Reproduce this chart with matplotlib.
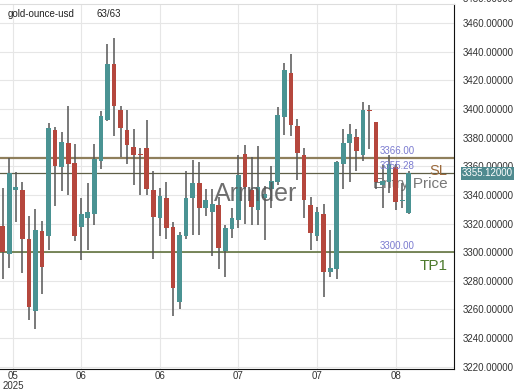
import matplotlib
matplotlib.use('Agg')
import matplotlib.pyplot as plt
from matplotlib.ticker import FormatStrFormatter
import numpy as np

plt.rcParams['font.family'] = ['Liberation Sans', 'DejaVu Sans']

# daily candles (63 bars)
opens = [3318.6, 3299.1, 3343.7, 3343.7, 3309.4, 3259.3, 3314.5, 3311.0, 3385.3, 3359.3,
         3376.1, 3362.1, 3317.9, 3324.1, 3326.4, 3363.9, 3392.7, 3431.8, 3399.6, 3385.3,
         3373.8, 3368.7, 3372.7, 3343.2, 3324.1, 3337.9, 3317.9, 3265.0, 3311.0, 3337.9,
         3348.5, 3330.6, 3328.3, 3333.3, 3301.1, 3316.3, 3322.5, 3368.5, 3343.2, 3329.4,
         3338.0, 3344.4, 3349.0, 3394.5, 3425.3, 3388.1, 3367.8, 3333.3, 3311.0, 3326.4,
         3286.4, 3288.0, 3361.6, 3376.6, 3380.7, 3367.8, 3398.6, 3390.8, 3347.1, 3349.0,
         3359.3, 3336.0, 3327.1]
highs = [3344.8, 3366.0, 3355.9, 3349.0, 3325.3, 3330.1, 3321.8, 3390.4, 3387.6, 3383.9,
         3402.3, 3375.4, 3338.0, 3348.5, 3375.4, 3398.4, 3445.6, 3449.7, 3402.3, 3399.1,
         3386.2, 3373.1, 3392.7, 3357.0, 3344.8, 3349.0, 3321.4, 3314.0, 3357.0, 3364.6,
         3363.2, 3344.4, 3344.4, 3338.6, 3319.1, 3330.6, 3367.8, 3374.7, 3366.2, 3374.3,
         3346.5, 3360.5, 3401.4, 3432.2, 3438.2, 3393.1, 3373.1, 3338.6, 3331.7, 3334.0,
         3315.6, 3363.9, 3386.2, 3389.9, 3386.2, 3405.3, 3403.0, 3391.0, 3360.9, 3367.8,
         3361.6, 3348.5, 3357.0]
lows = [3281.1, 3289.2, 3321.4, 3285.7, 3252.4, 3246.6, 3270.8, 3301.8, 3332.4, 3342.8,
        3339.8, 3307.6, 3294.9, 3301.8, 3319.1, 3358.2, 3391.5, 3381.2, 3366.2, 3361.6,
        3347.1, 3339.8, 3339.8, 3295.6, 3311.0, 3309.4, 3255.8, 3260.4, 3309.4, 3312.2,
        3311.7, 3325.5, 3297.2, 3288.0, 3282.7, 3310.3, 3316.8, 3319.5, 3319.1, 3319.1,
        3308.7, 3330.6, 3346.7, 3381.6, 3381.2, 3350.8, 3324.1, 3301.8, 3307.6, 3268.5,
        3282.7, 3281.1, 3344.4, 3349.0, 3357.0, 3363.9, 3372.4, 3344.4, 3330.6, 3341.6,
        3329.4, 3330.6, 3326.4]
closes = [3300.2, 3355.4, 3345.5, 3309.4, 3261.6, 3315.6, 3289.6, 3386.9, 3360.0, 3377.3,
          3361.6, 3311.0, 3326.4, 3328.3, 3365.1, 3395.4, 3431.8, 3402.3, 3386.9, 3374.7,
          3367.8, 3368.0, 3343.9, 3324.8, 3339.3, 3316.8, 3274.9, 3312.2, 3337.9, 3348.5,
          3331.0, 3336.3, 3334.0, 3303.0, 3317.2, 3323.7, 3354.0, 3345.5, 3331.7, 3345.5,
          3341.0, 3350.1, 3396.1, 3427.2, 3389.2, 3369.2, 3336.3, 3313.3, 3327.8, 3286.4,
          3289.2, 3362.8, 3376.6, 3382.3, 3370.8, 3399.1, 3398.4, 3349.0, 3350.1, 3361.6,
          3335.2, 3336.5, 3355.12]

date_ticks = [1.6, 12, 24, 36, 48, 60]
date_labels = ['05\n2025', '06', '06', '07', '07', '08']
y_ticks = [3220, 3240, 3260, 3280, 3300, 3320, 3340, 3360, 3380, 3400, 3420, 3440, 3460]

sl_level = 3366.00
entry_level = 3355.28
tp_level = 3300.00
last_price = 3355.12

up_col = '#4a9393'
down_col = '#b5473d'

fig = plt.figure(figsize=(5.2, 3.9), dpi=100)
ax = fig.add_axes([0, 0.053, 0.873, 0.937])

x = np.arange(len(opens))
o = np.array(opens)
c = np.array(closes)
cols = [up_col if cc >= oo else down_col for oo, cc in zip(o, c)]
body_h = np.maximum(np.abs(c - o), 0.7)
body_b = np.minimum(o, c)

ax.vlines(x, lows, highs, color='#555555', linewidth=1.1, zorder=3)
ax.bar(x, body_h, bottom=body_b, width=0.72, color=cols, zorder=4)

# levels
ax.axhline(sl_level, color='#8f7f5c', linewidth=1.6, zorder=2)
ax.axhline(entry_level, color='#5f5f46', linewidth=0.9, zorder=2)
ax.axhline(tp_level, color='#55682f', linewidth=1.1, zorder=2)

lab_x = 57.6
ax.text(lab_x, sl_level + 1.2, '%.2f' % sl_level, color='#7b7bd0', fontsize=7, va='bottom', zorder=5)
ax.text(lab_x, entry_level + 1.2, '%.2f' % entry_level, color='#7b7bd0', fontsize=7, va='bottom', zorder=5)
ax.text(lab_x, tp_level + 1.2, '%.2f' % tp_level, color='#7b7bd0', fontsize=7, va='bottom', zorder=5)

ax.text(67.9, 3356.8, 'SL', color='#9c6a3c', fontsize=10.5, ha='right', va='center', zorder=5)
ax.text(67.9, 3347.5, 'Entry Price', color='#777777', fontsize=11, ha='right', va='center', zorder=1)
ax.text(67.9, 3290.5, 'TP1', color='#4c7a2c', fontsize=11, ha='right', va='center', zorder=5)

# watermark
ax.text(32.2, 3341, 'Arrnder', color='#555555', alpha=0.85, fontsize=18, ha='left', va='center', zorder=6)

# header
ax.text(8 / 454, 0.973, 'gold-ounce-usd', transform=ax.transAxes, fontsize=7, va='center', color='#222222')
ax.text(97 / 454, 0.973, '63/63', transform=ax.transAxes, fontsize=7, va='center', color='#222222')

ax.set_xlim(-0.41, 68.9)
ax.set_ylim(3218.2, 3473.5)

ax.set_xticks(date_ticks)
ax.set_xticklabels(date_labels)
ax.xaxis.get_gridlines()[0].set_visible(False)
ax.set_yticks(y_ticks)
ax.yaxis.set_major_formatter(FormatStrFormatter('%.5f'))
ax.yaxis.tick_right()
ax.tick_params(axis='y', length=0, pad=6.5, labelsize=7, labelcolor='#333333')
ax.tick_params(axis='x', length=0, pad=1.5, labelsize=7, labelcolor='#333333')
for lab in ax.get_xticklabels():
    lab.set_linespacing(0.95)
ax.grid(True, color='#e6e6e6', linewidth=0.8, zorder=0)
ax.set_axisbelow(True)

ax.spines['left'].set_visible(False)
ax.spines['top'].set_color('#dddddd')
ax.spines['top'].set_linewidth(0.8)
ax.spines['right'].set_color('#111111')
ax.spines['bottom'].set_color('#111111')

# top label, partly cut off by the figure edge as in the original
fig.text(463 / 520, 1 + 1.5 / 390, '3480.00000', fontsize=7, color='#333333', va='center')

# last price tag
ax.text(1.0 + 8 / 454, last_price, '%.5f' % last_price, transform=ax.get_yaxis_transform(),
        fontsize=7, color='white', va='center', ha='left', zorder=7, clip_on=False,
        bbox=dict(boxstyle='square,pad=0.15', facecolor='#4f8a8f', edgecolor='none'))

fig.savefig('out.png', dpi=100)
